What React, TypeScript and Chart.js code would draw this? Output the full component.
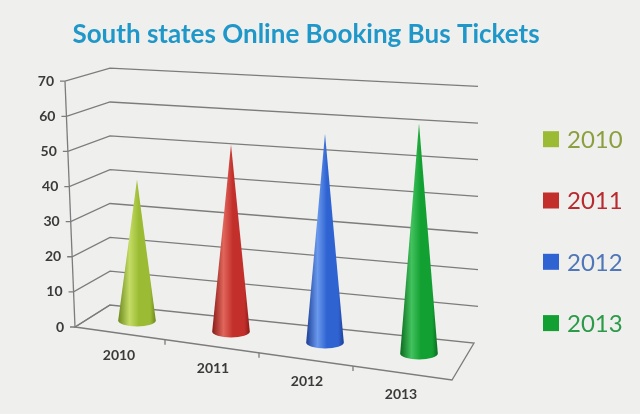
import { useEffect, useRef } from 'react';
import { Chart, registerables, Plugin } from 'chart.js';

Chart.register(...registerables);

// values
const years = ['2010', '2011', '2012', '2013'];
const bookings = [42, 52, 55, 58];
const yTicks = [0, 10, 20, 30, 40, 50, 60, 70];

const coneColors = ['#9bbb34', '#c3302c', '#2f63d2', '#13a032'];
const coneLight = ['#c4dc66', '#e0665b', '#6a98ec', '#43c25e'];
const coneDark = ['#6d8a1e', '#8a1b18', '#1c3f96', '#0b6b1f'];
const legendTextColors = ['#8c9f3e', '#b9292d', '#4e76b9', '#2b9a49'];

const lineGray = '#7c7c7c';
const labelFont = 'bold 14px Lato';

// pseudo 3D walls, floor and gridlines, placed from the y scale
const frame3d: Plugin<'bar'> = {
    id: 'frame3d',
    beforeDatasetsDraw(chart) {
        const { ctx, chartArea } = chart;
        const { left: L, top: T, bottom: B } = chartArea;
        const yScale = chart.scales.y;
        const span = B - T;
        ctx.save();
        ctx.strokeStyle = lineGray;
        ctx.lineWidth = 1.3;

        // floor
        ctx.beginPath();
        ctx.moveTo(L - 15, B);
        ctx.lineTo(L + 362, B + 53);
        ctx.lineTo(L + 384, B + 16);
        ctx.lineTo(L + 20, B - 22);
        ctx.closePath();
        ctx.stroke();

        ctx.fillStyle = '#3a3a3a';
        ctx.font = labelFont;
        ctx.textAlign = 'right';
        ctx.textBaseline = 'middle';

        yTicks.forEach((v) => {
            const py = yScale.getPixelForValue(v);
            const h = B - py;
            const fx = L - 15 - (10 * h) / span;
            ctx.beginPath();
            ctx.moveTo(fx - 5, py);
            ctx.lineTo(fx, py);
            ctx.lineTo(L + 20, B - 22 - h * 0.9636);
            if (v > 0) ctx.lineTo(L + 388, B + 16 - h * 1.044);
            ctx.stroke();
            ctx.fillText(String(v), fx - 11, py);
        });

        // front value axis
        ctx.beginPath();
        ctx.moveTo(L - 25, T);
        ctx.lineTo(L - 15, B);
        ctx.stroke();

        // category ticks on the front edge of the floor
        const meta = chart.getDatasetMeta(0);
        for (let i = 1; i < meta.data.length; i++) {
            const mid = (meta.data[i - 1].x + meta.data[i].x) / 2 - 19;
            const fy = B + (mid - (L - 15)) * 0.1406;
            ctx.beginPath();
            ctx.moveTo(mid, fy);
            ctx.lineTo(mid, fy + 5);
            ctx.stroke();
        }
        ctx.restore();
    },
    afterDatasetsDraw(chart) {
        const { ctx, chartArea } = chart;
        const { left: L, bottom: B, right: R, top: T } = chartArea;
        const meta = chart.getDatasetMeta(0);
        ctx.save();

        // cones
        meta.data.forEach((bar, i) => {
            const { x, y, width } = bar.getProps(['x', 'y', 'width'], true) as any;
            const baseY = B + (x - L) * 0.117 - 12;
            const rx = width / 2;
            const ry = 6;
            const g = ctx.createLinearGradient(x - rx, 0, x + rx, 0);
            g.addColorStop(0, coneDark[i]);
            g.addColorStop(0.3, coneLight[i]);
            g.addColorStop(0.55, coneColors[i]);
            g.addColorStop(0.85, coneColors[i]);
            g.addColorStop(1, coneDark[i]);
            ctx.beginPath();
            ctx.moveTo(x, y);
            ctx.lineTo(x - rx, baseY);
            ctx.ellipse(x, baseY, rx, ry, 0, Math.PI, 0, true);
            ctx.closePath();
            ctx.fillStyle = g;
            ctx.fill();
        });

        // category labels along the slanted floor edge
        ctx.fillStyle = '#3a3a3a';
        ctx.font = labelFont;
        ctx.textAlign = 'center';
        ctx.textBaseline = 'middle';
        meta.data.forEach((bar, i) => {
            const lx = bar.x - 18;
            const ly = B + (lx - (L - 15)) * 0.1406 + 22;
            ctx.fillText(years[i], lx, ly);
        });

        // legend
        ctx.font = '24px Lato';
        ctx.textAlign = 'left';
        years.forEach((yr, i) => {
            const cy = T + 58 + i * 61.3;
            ctx.fillStyle = coneColors[i];
            ctx.fillRect(R + 77, cy - 8, 16, 16);
            ctx.fillStyle = legendTextColors[i];
            ctx.fillText(yr, R + 101, cy + 1);
        });
        ctx.restore();
    },
};

const App = () => {
    const canvasRef = useRef<HTMLCanvasElement | null>(null);
    const chartInstance = useRef<Chart<'bar'> | null>(null);

    useEffect(() => {
        document.body.style.margin = '0';
        if (!canvasRef.current) return;
        if (chartInstance.current) chartInstance.current.destroy();

        chartInstance.current = new Chart(canvasRef.current, {
            type: 'bar',
            data: {
                labels: years,
                datasets: [
                    {
                        label: 'Bookings',
                        data: bookings,
                        backgroundColor: 'rgba(0,0,0,0)',
                        barPercentage: 0.4,
                        categoryPercentage: 1,
                    },
                ],
            },
            options: {
                animation: false,
                responsive: true,
                maintainAspectRatio: false,
                layout: { padding: { right: 28, bottom: 87 } },
                plugins: {
                    legend: { display: false },
                    tooltip: { enabled: false },
                    title: {
                        display: true,
                        text: 'South states Online Booking Bus Tickets',
                        color: '#1f97c9',
                        font: { family: 'Lato', size: 26, weight: 'bold' },
                        padding: { top: 19, bottom: 31 },
                    },
                },
                scales: {
                    x: { display: false },
                    y: {
                        min: 0,
                        max: 70,
                        ticks: { stepSize: 10, display: false },
                        grid: { display: false },
                        border: { display: false },
                        afterFit: (s) => {
                            s.width = 90;
                        },
                    },
                    y2: {
                        type: 'linear',
                        position: 'right',
                        ticks: { display: false },
                        grid: { display: false },
                        border: { display: false },
                        afterFit: (s) => {
                            s.width = 146;
                        },
                    },
                },
            },
            plugins: [frame3d],
        });

        return () => {
            if (chartInstance.current) {
                chartInstance.current.destroy();
                chartInstance.current = null;
            }
        };
    }, []);

    return (
        <div style={{ width: 640, height: 414, background: '#efefed', position: 'relative' }}>
            <canvas ref={canvasRef} />
        </div>
    );
};

export default App;
